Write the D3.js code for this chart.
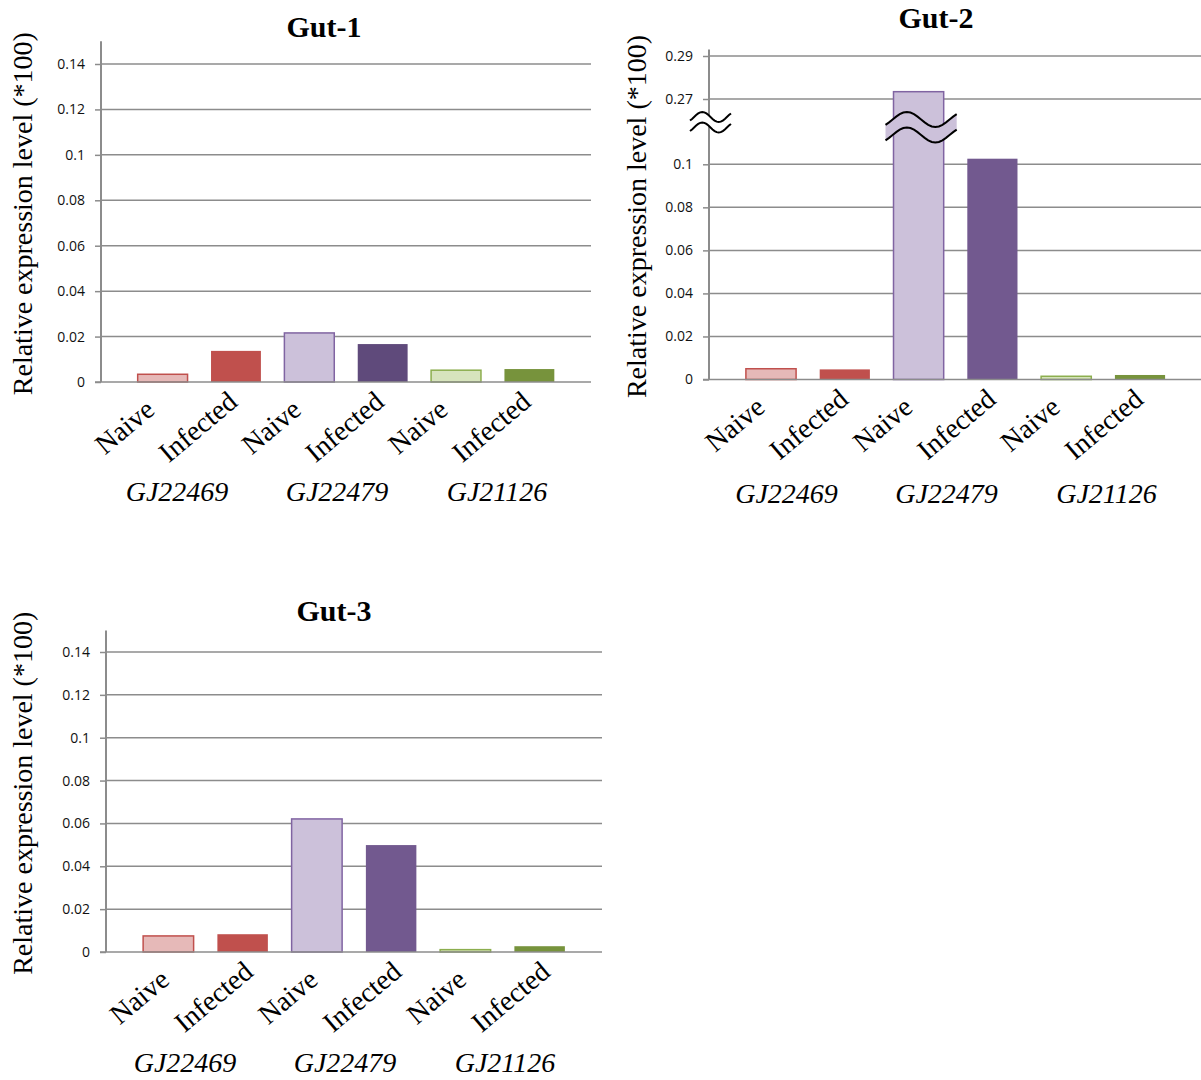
<!DOCTYPE html>
<html lang="en">
	<head>
		<meta charset="utf-8">
		<title>gut expression</title>
		<script type="text/javascript" src="https://d3js.org/d3.v7.min.js"></script>
		<style type="text/css">
            body{margin:0;background:#fff;}
            svg{display:block;}
            .tick text{font-family:"Open Sans",sans-serif;font-size:14px;fill:#111;}
            .tick line{stroke:#8c8c8c;stroke-width:1.5;}
		</style>
	</head>
	<body>
    <div id="chart1"></div>
		<script type="text/javascript">
            // values
            var categories = ["Naive","Infected","Naive","Infected","Naive","Infected"]
            var genes = ["GJ22469","GJ22479","GJ21126"]
            var gut1Values = [0.0034, 0.0137, 0.0216, 0.0167, 0.0052, 0.0057]
            var gut2Values = [0.0050, 0.0047, 0.2734, 0.1026, 0.0015, 0.0021]
            var gut3Values = [0.0075, 0.0083, 0.0621, 0.0499, 0.0011, 0.0027]
            var fullTicks = [0, 0.02, 0.04, 0.06, 0.08, 0.1, 0.12, 0.14]
            var lowerTicks = [0, 0.02, 0.04, 0.06, 0.08, 0.1]
            var upperTicks = [0.27, 0.29]
            var yTitle = "Relative expression level (*100)"

            var fills = ["#e6b9b8","#c0504d","#ccc1da","#72598f","#d7e4bd","#77933c"]
            var fillsGut1 = ["#e6b9b8","#c0504d","#ccc1da","#5f4a7b","#d7e4bd","#77933c"]
            var strokes = ["#c0504d", null, "#8064a2", null, "#8cae4e", null]
            var grid = "#8c8c8c"

            var svg = d3.select("#chart1").append("svg").attr("width",1201).attr("height",1080)

            // layout of the three panels
            var panels = [
                {title:"Gut-1", values:gut1Values, fills:fillsGut1, x0:101, x1:591, base:382, top:64, topVal:0.14,
                 axisTop:0.15, titleX:324, titleY:37, yTitleX:32, gLabelY:501, catDx:-38},
                {title:"Gut-2", values:gut2Values, fills:fills, x0:709, x1:1202, base:379.5, top:164.3, topVal:0.1,
                 axisTop:0.293, titleX:936, titleY:28, yTitleX:646, gLabelY:503, catDx:-36, broken:true},
                {title:"Gut-3", values:gut3Values, fills:fills, x0:106, x1:602, base:952, top:652, topVal:0.14,
                 axisTop:0.15, titleX:334, titleY:621, yTitleX:32, gLabelY:1072, catDx:-29}
            ]

            function waveF(t){
                return -Math.sin(2*Math.PI*(t-0.1)/0.8)
            }
            function wavePoints(x0, w, yc, a){
                return d3.range(0,1.0001,0.05).map(function(t){ return [x0+t*w, yc+a*waveF(t)] })
            }
            function drawBreak(g, x0, w, y1, y2, a, fill){
                var up = wavePoints(x0,w,y1,a)
                var lo = wavePoints(x0,w,y2,a)
                var line = d3.line()
                g.append("path").attr("d", line(up.concat(lo.slice().reverse()))+"Z").attr("fill",fill)
                g.append("path").attr("d", line(up)).attr("fill","none").attr("stroke","#000").attr("stroke-width",2)
                g.append("path").attr("d", line(lo)).attr("fill","none").attr("stroke","#000").attr("stroke-width",2)
            }

            panels.forEach(function(p){
                var g = svg.append("g")
                var x = d3.scaleBand().domain(d3.range(categories.length)).range([p.x0,p.x1])
                          .paddingInner(0.32).paddingOuter(0.5)
                var y = d3.scaleLinear().domain([0,p.topVal]).range([p.base,p.top])
                var yUp = null
                if(p.broken){
                    yUp = d3.scaleLinear().domain([0.27,0.29]).range([99,56])
                }
                // a value goes on the upper scale only when it is above the break
                function yOf(d){
                    return (yUp && d > 0.2) ? yUp(d) : y(d)
                }
                var ticks = p.broken ? lowerTicks : fullTicks
                var gridEnd = Math.min(p.x1, 1201)

                // gridlines
                g.selectAll(".grid").data(ticks.slice(1)).enter().append("line")
                    .attr("x1",p.x0).attr("x2",gridEnd)
                    .attr("y1",function(d){return y(d)}).attr("y2",function(d){return y(d)})
                    .attr("stroke",grid).attr("stroke-width",1.5)
                if(yUp){
                    g.selectAll(".gridUp").data(upperTicks).enter().append("line")
                        .attr("x1",p.x0).attr("x2",gridEnd)
                        .attr("y1",function(d){return yUp(d)}).attr("y2",function(d){return yUp(d)})
                        .attr("stroke",grid).attr("stroke-width",1.5)
                }

                // bars
                g.selectAll("rect").data(p.values).enter().append("rect")
                    .attr("x",function(d,i){return x(i)})
                    .attr("width",x.bandwidth())
                    .attr("y",function(d){ return yOf(d) })
                    .attr("height",function(d){ return p.base - yOf(d) })
                    .attr("fill",function(d,i){return p.fills[i]})
                    .attr("stroke",function(d,i){return strokes[i] || "none"})
                    .attr("stroke-width",1.5)

                // baseline + y axis line
                g.append("line").attr("x1",p.x0-6).attr("x2",gridEnd).attr("y1",y(0)).attr("y2",y(0))
                    .attr("stroke",grid).attr("stroke-width",1.5)
                var axisTopY = yUp ? yUp(p.axisTop) : y(p.axisTop)
                g.append("line").attr("x1",p.x0).attr("x2",p.x0).attr("y1",axisTopY).attr("y2",y(0))
                    .attr("stroke",grid).attr("stroke-width",2)

                var axis = d3.axisLeft(y).tickValues(ticks).tickSize(6).tickPadding(10)
                    .tickFormat(function(d){return String(d)})
                var ga = g.append("g").attr("transform","translate("+p.x0+",0)").call(axis)
                ga.select(".domain").remove()
                if(yUp){
                    var ga2 = g.append("g").attr("transform","translate("+p.x0+",0)")
                        .call(d3.axisLeft(yUp).tickValues(upperTicks).tickSize(6).tickPadding(10).tickFormat(function(d){return String(d)}))
                    ga2.select(".domain").remove()

                    // break marks on the axis and on the tall bar
                    var bi = p.values.indexOf(d3.max(p.values))
                    drawBreak(g, p.x0-19, 41, 117, 127.5, 5, "#fff")
                    drawBreak(g, x(bi)-8, x.bandwidth()+21, 119.5, 135, 7.5, p.fills[bi])
                }

                // category labels
                g.selectAll(".cat").data(categories).enter().append("text")
                    .attr("transform",function(d,i){
                        return "translate("+(x(i)+x.bandwidth()/2+p.catDx)+","+(p.base+45)+") rotate(-40)"
                    })
                    .attr("text-anchor","middle").attr("dy","0.33em")
                    .style("font-family","'Liberation Serif','Times New Roman',serif").style("font-size","28px")
                    .text(function(d){return d})

                // gene labels
                var mid = (p.x0+p.x1)/2 - 9
                g.selectAll(".gene").data(genes).enter().append("text")
                    .attr("x",function(d,i){return mid+(i-1)*160})
                    .attr("y",p.gLabelY)
                    .attr("text-anchor","middle")
                    .style("font-family","'Liberation Serif','Times New Roman',serif").style("font-size","28px")
                    .style("font-style","italic")
                    .text(function(d){return d})

                // title
                g.append("text").attr("x",p.titleX).attr("y",p.titleY).attr("text-anchor","middle")
                    .style("font-family","'Liberation Serif','Times New Roman',serif").style("font-size","30px")
                    .style("font-weight","bold").text(p.title)

                // y title
                var yMid = (axisTopY + y(0))/2 + 2
                g.append("text").attr("transform","translate("+p.yTitleX+","+yMid+") rotate(-90)")
                    .attr("text-anchor","middle")
                    .style("font-family","'Liberation Serif','Times New Roman',serif").style("font-size","28px")
                    .text(yTitle)
            })
		</script>
	</body>
</html>
